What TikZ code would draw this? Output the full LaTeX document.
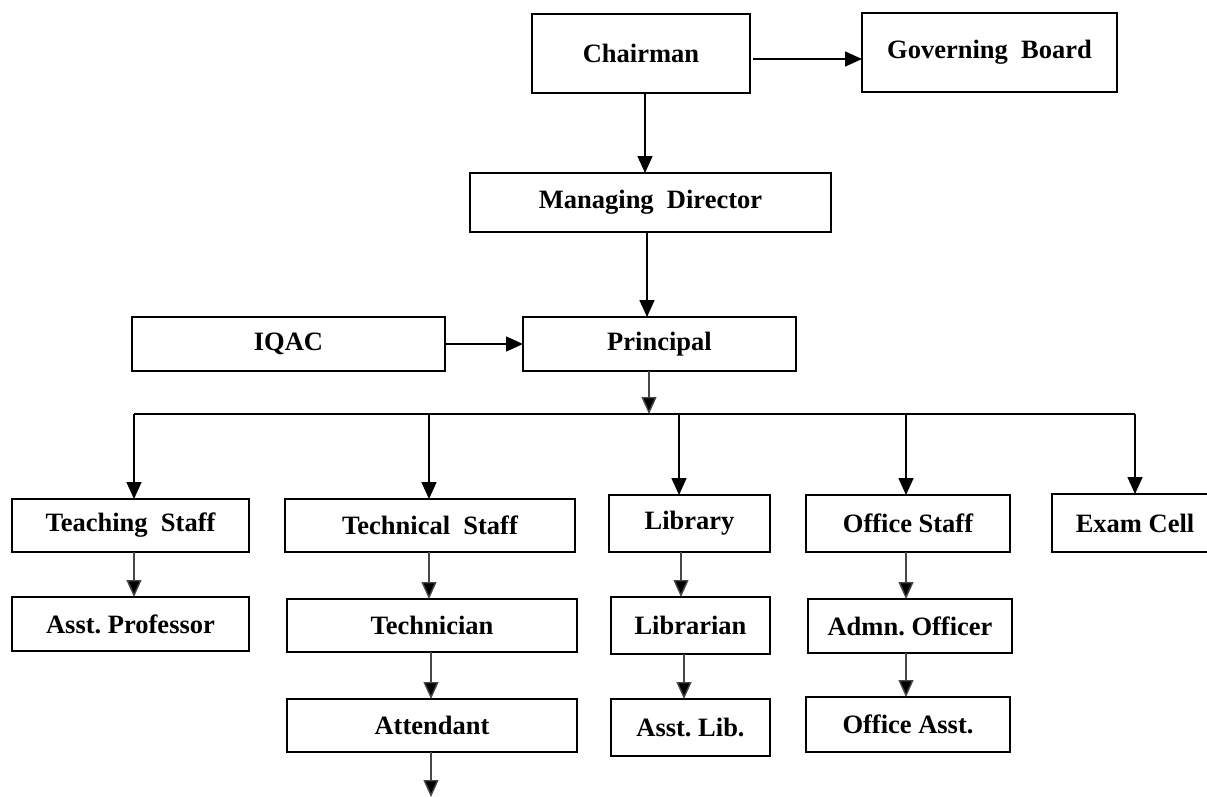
\documentclass[tikz,border=0pt]{standalone}
\usepackage{fontspec}
\setmainfont{Liberation Serif}
\usetikzlibrary{arrows.meta}
\frenchspacing
\tikzset{
  box/.style={draw=black, line width=1.8, inner sep=0, outer sep=0, align=center,
    font=\fontsize{26.5}{30}\selectfont\bfseries, text=black},
  arr/.style={line width=1.6, draw=black, -{Triangle[length=17pt,width=15pt]}},
  garr/.style={line width=1.4, draw=black!72, -{Triangle[length=17pt,width=15pt,fill=black]}},
  busline/.style={line width=1.6, draw=black},
}
\begin{document}
\begin{tikzpicture}[x=1pt,y=-1pt]
\useasboundingbox (0,0) rectangle (1207,797);
% top
\node[box, minimum width=218, minimum height=79] (ch) at (641,53.5) {Chairman};
\node[box, minimum width=255, minimum height=79] (gb) at (989.5,52.5) {Governing~~Board};
\node[box, minimum width=361, minimum height=59] (md) at (650.5,202.5) {Managing~~Director};
\node[box, minimum width=313, minimum height=54] (iq) at (288.5,344) {IQAC};
\node[box, minimum width=273, minimum height=54] (pr) at (659.5,344) {Principal};
% second level
\node[box, minimum width=237, minimum height=53] (ts) at (130.5,525.5) {Teaching~~Staff};
\node[box, minimum width=237, minimum height=54] (ap) at (130.5,624) {Asst. Professor};
\node[box, minimum width=290, minimum height=53] (tc) at (430,525.5) {Technical~~Staff};
\node[box, minimum width=290, minimum height=53] (tn) at (432,625.5) {Technician};
\node[box, minimum width=290, minimum height=53] (at) at (432,725.5) {Attendant};
\node[box, minimum width=161, minimum height=57] (lb) at (689.5,523.5) {Library};
\node[box, minimum width=159, minimum height=57] (ln) at (690.5,625.5) {Librarian};
\node[box, minimum width=159, minimum height=57] (al) at (690.5,727.5) {Asst. Lib.};
\node[box, minimum width=204, minimum height=57] (os) at (908,523.5) {Office Staff};
\node[box, minimum width=204, minimum height=54] (ao) at (910,626) {Admn. Officer};
\node[box, minimum width=204, minimum height=55] (oa) at (908,724.5) {Office Asst.};
\node[box, minimum width=166, minimum height=58] (ec) at (1135,523) {Exam Cell};
% helper coordinates
\coordinate (cg) at (753,59);
\coordinate (x1) at (645,0);
\coordinate (x2) at (647,0);
\coordinate (pb) at (649,414);
\coordinate (b1) at (134,414);
\coordinate (b2) at (429,414);
\coordinate (b3) at (679,414);
\coordinate (b4) at (906,414);
\coordinate (b5) at (1135,414);
\coordinate (x6) at (431,0);
\coordinate (x7) at (681,0);
\coordinate (x8) at (684,0);
\coordinate (ae) at (431,797);
% connectors
\draw[arr] (cg) -- (gb.west |- cg);
\draw[arr] (ch.south -| x1) -- (md.north -| x1);
\draw[arr] (md.south -| x2) -- (pr.north -| x2);
\draw[arr] (iq.east) -- (pr.west);
\draw[garr] (pr.south -| pb) -- (pb);
\draw[busline] (b1) -- (b5);
\draw[arr] (b1) -- (ts.north -| b1);
\draw[arr] (b2) -- (tc.north -| b2);
\draw[arr] (b3) -- (lb.north -| b3);
\draw[arr] (b4) -- (os.north -| b4);
\draw[arr] (b5) -- (ec.north -| b5);
\draw[garr] (ts.south -| b1) -- (ap.north -| b1);
\draw[garr] (tc.south -| b2) -- (tn.north -| b2);
\draw[garr] (tn.south -| x6) -- (at.north -| x6);
\draw[garr] (at.south -| ae) -- (ae);
\draw[garr] (lb.south -| x7) -- (ln.north -| x7);
\draw[garr] (ln.south -| x8) -- (al.north -| x8);
\draw[garr] (os.south -| b4) -- (ao.north -| b4);
\draw[garr] (ao.south -| b4) -- (oa.north -| b4);
\end{tikzpicture}
\end{document}
